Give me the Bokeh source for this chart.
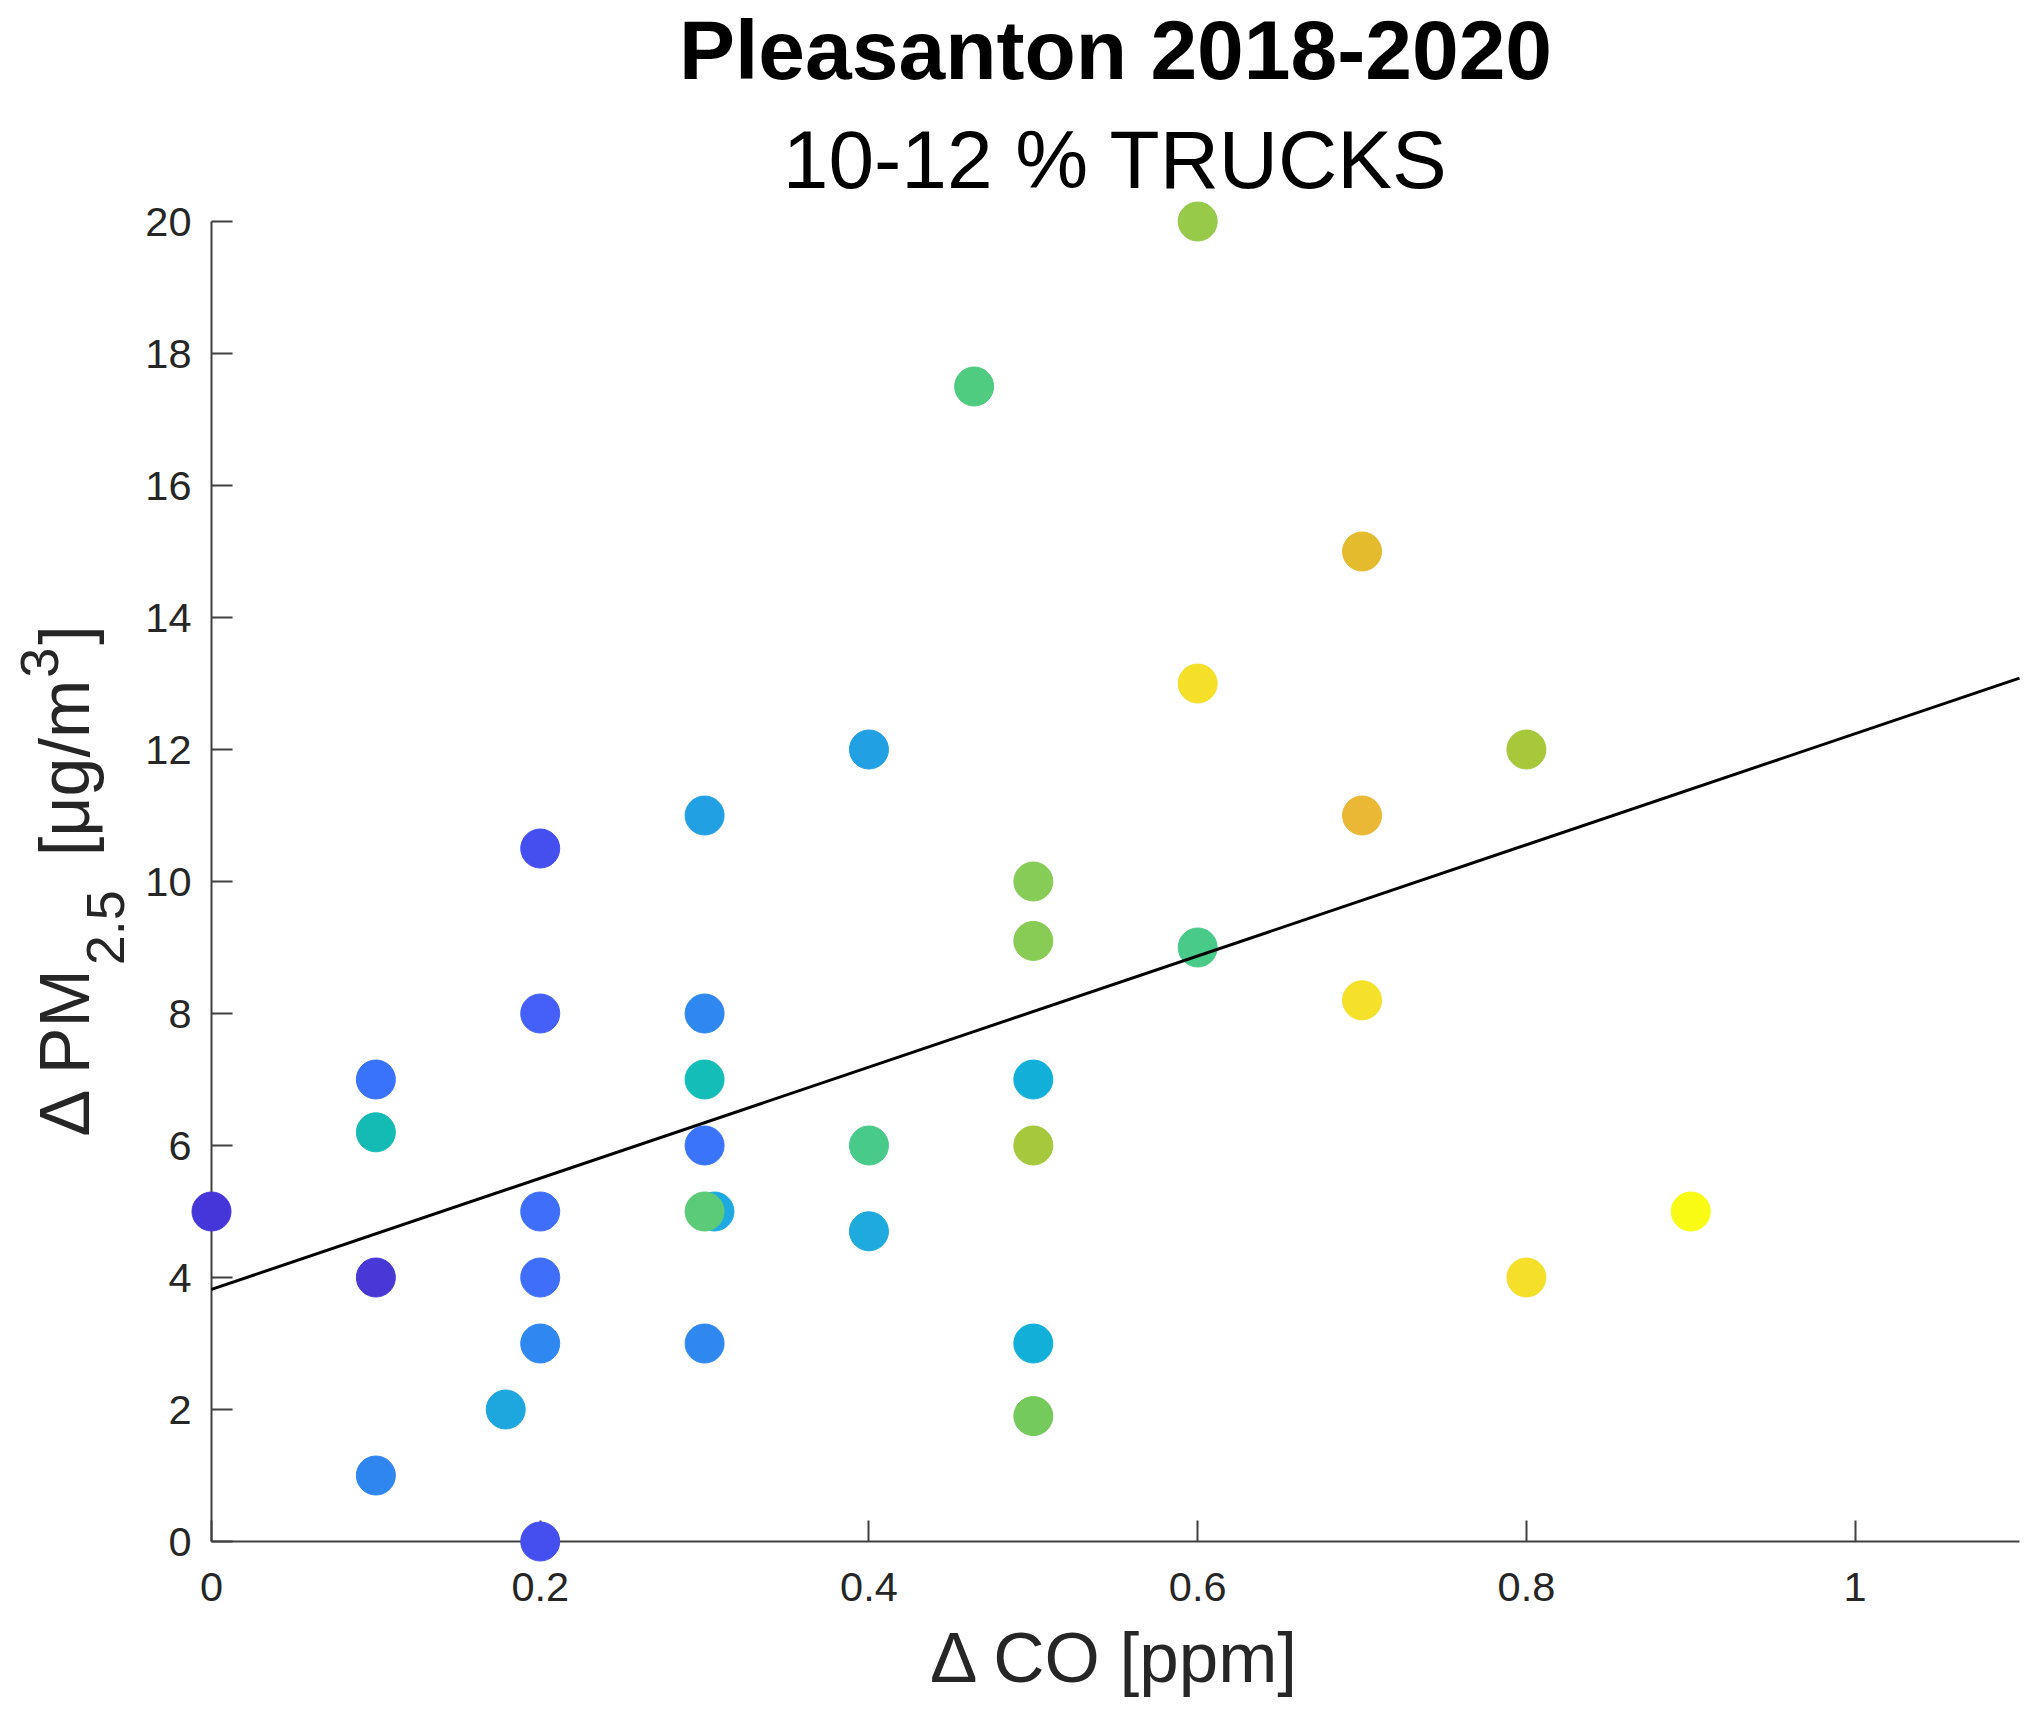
import numpy as np
from bokeh.plotting import figure
from bokeh.models import Range1d, FixedTicker, Label, ColumnDataSource
from bokeh.embed import file_html
from bokeh.resources import INLINE

# ---------------- data ----------------
title_text = "Pleasanton 2018-2020"
subtitle_text = "10-12 % TRUCKS"
x_label_text = "Δ CO [ppm]"
y_label_parts = ["Δ PM", "2.5", "[μg/m", "3", "]"]

co = [0.0, 0.1, 0.1, 0.1, 0.1,
      0.2, 0.2, 0.2, 0.2, 0.2, 0.2, 0.179,
      0.3, 0.3, 0.3, 0.3, 0.306, 0.3, 0.3,
      0.4, 0.4, 0.4, 0.464,
      0.5, 0.5, 0.5, 0.5, 0.5, 0.5,
      0.6, 0.6, 0.6,
      0.7, 0.7, 0.7,
      0.8, 0.8, 0.9]
pm = [5.0, 7.0, 6.2, 4.0, 1.0,
      10.5, 8.0, 5.0, 4.0, 3.0, 0.0, 2.0,
      11.0, 8.0, 7.0, 6.0, 5.0, 5.0, 3.0,
      12.0, 6.0, 4.7, 17.5,
      10.0, 9.1, 7.0, 6.0, 3.0, 1.9,
      20.0, 13.0, 9.0,
      15.0, 11.0, 8.2,
      12.0, 4.0, 5.0]
colors = ["#4536d9", "#3a73fb", "#14bbb5", "#4838d6", "#2f86f0",
          "#454ff0", "#4460f8", "#3f6ffa", "#3f6ffa", "#2f88f0", "#454ff0", "#1ea7df",
          "#22a0e4", "#2f88f0", "#14bdb7", "#3a74fa", "#1eaae0", "#5bcb78", "#2f88f0",
          "#22a0e4", "#48cb8a", "#1eaadc", "#50cc80",
          "#88cc58", "#88cc55", "#12b0d8", "#a5c83c", "#12b0d8", "#75ca5c",
          "#96ca48", "#f5df28", "#48cb88",
          "#e5bb2e", "#ebb836", "#f5e02a",
          "#a8c83c", "#f5df2a", "#f9fb14"]

fit_intercept = 3.82
fit_slope = 8.42

x_lim = (0.0, 1.1)
y_lim = (0.0, 20.0)
x_ticks = [0, 0.2, 0.4, 0.6, 0.8, 1.0]
x_tick_labels = ["0", "0.2", "0.4", "0.6", "0.8", "1"]
y_ticks = [0, 2, 4, 6, 8, 10, 12, 14, 16, 18, 20]
y_tick_labels = ["0", "2", "4", "6", "8", "10", "12", "14", "16", "18", "20"]

# ---------------- layout (canvas px) ----------------
W, H = 2028, 1699
ax_left, ax_right, ax_top, ax_bottom = 211, 2019, 221, 1541
px_x = (ax_right - ax_left) / (x_lim[1] - x_lim[0])
px_y = (ax_bottom - ax_top) / (y_lim[1] - y_lim[0])


def dx(px):
    return x_lim[0] + (px - ax_left) / px_x


def dy(py):
    return y_lim[0] + (ax_bottom - py) / px_y


FONT = "Liberation Sans"
BASE = 0.38   # rendered alphabetic baseline sits this many em below the anchor

# the plotting frame covers the whole canvas, so nothing is clipped
p = figure(width=W, height=H, output_backend="svg", toolbar_location=None,
           x_range=Range1d(dx(0), dx(W)), y_range=Range1d(dy(H), dy(0)),
           min_border=0, min_border_left=0, min_border_right=0,
           min_border_top=0, min_border_bottom=0, title=None)
p.outline_line_color = None
p.background_fill_color = "white"
p.border_fill_color = "white"
p.xgrid.visible = False
p.ygrid.visible = False

src = ColumnDataSource(dict(co=co, pm=pm, color=colors))
sc = p.scatter(x="co", y="pm", source=src, size=39, marker="circle",
               fill_color="color", line_color="color", line_width=1)
sc.level = "overlay"

lx = list(x_lim)
ly = [fit_intercept + fit_slope * v for v in lx]
ln = p.line(x=lx, y=ly, line_color="black", line_width=3)
ln.level = "overlay"

# axes crossing at the origin
p.xaxis.fixed_location = y_lim[0]
p.yaxis.fixed_location = x_lim[0]
p.xaxis.bounds = x_lim
p.yaxis.bounds = y_lim
p.xaxis.ticker = FixedTicker(ticks=x_ticks)
p.yaxis.ticker = FixedTicker(ticks=y_ticks)
p.xaxis.major_label_overrides = {t: s for t, s in zip(x_ticks, x_tick_labels)}
p.yaxis.major_label_overrides = {t: s for t, s in zip(y_ticks, y_tick_labels)}
for ax in (p.xaxis, p.yaxis):
    ax.axis_line_color = "#404040"
    ax.axis_line_width = 2
    ax.major_tick_line_color = "#404040"
    ax.major_tick_line_width = 2
    ax.major_tick_in = 21
    ax.major_tick_out = 0
    ax.minor_tick_line_color = None
    ax.major_label_text_font = FONT
    ax.major_label_text_font_size = "41.5px"
    ax.major_label_text_color = "#262626"
p.yaxis.major_label_standoff = 20
p.xaxis.major_label_standoff = 31

center_x = dx((ax_left + ax_right) / 2)


def hlabel(text, base_y, size, bold=False, color="black"):
    p.add_layout(Label(x=center_x, y=dy(base_y - BASE * size), text=text,
                       text_align="center", text_baseline="alphabetic", text_font=FONT,
                       text_font_style="bold" if bold else "normal",
                       text_font_size=f"{size}px", text_color=color))


hlabel(title_text, 81, 84, bold=True)
hlabel(subtitle_text, 190, 82)
hlabel(x_label_text, 1684, 71, color="#262626")

# y label built from pieces (subscript / superscript), rotated to read upwards
em = {"Δ": 0.668, " ": 0.278, "P": 0.667, "M": 0.833, "2": 0.556, ".": 0.278,
      "5": 0.556, "[": 0.278, "μ": 0.576, "g": 0.556, "/": 0.278, "m": 0.833,
      "3": 0.556, "]": 0.278}
part_sizes = [70, 54, 70, 54, 70]
part_base_x = [91, 126, 91, 60, 91]        # baseline position (canvas px)
part_gap = [0, 0, 34, 2, 3]                 # space before the piece (px)
pen = 1136                                  # canvas px, text runs upwards
for txt, size, bx, gap in zip(y_label_parts, part_sizes, part_base_x, part_gap):
    pen -= gap
    p.add_layout(Label(x=dx(bx - BASE * size), y=dy(pen), text=txt,
                       angle=np.pi / 2, text_align="left", text_baseline="alphabetic",
                       text_font=FONT, text_font_size=f"{size}px", text_color="#262626"))
    pen -= sum(em.get(c, 0.556) for c in txt) * size

open("out.html", "w").write(file_html(p, INLINE))
